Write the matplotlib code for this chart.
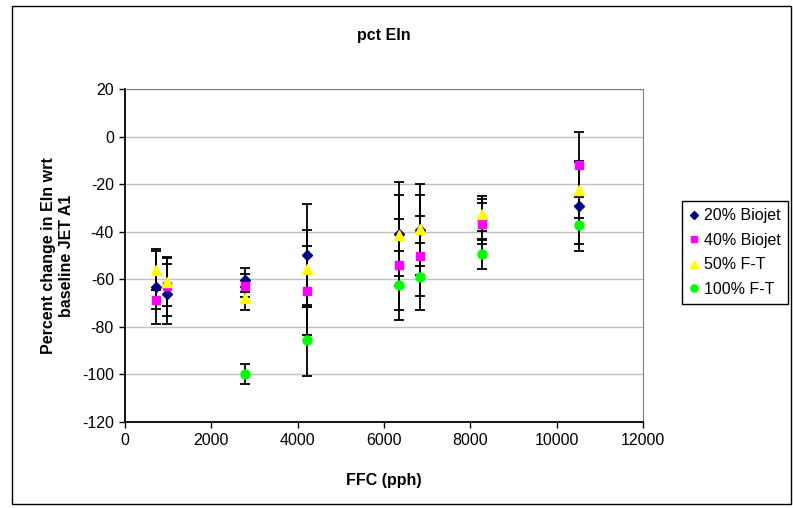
import matplotlib.pyplot as plt
from matplotlib.patches import Rectangle

plt.rcParams['font.family'] = ['Liberation Sans', 'DejaVu Sans']
plt.rcParams['axes.unicode_minus'] = False

# ===============================
# DATA
# ===============================
ffc_all = [710, 965, 2790, 4210, 6350, 6840, 8260, 10515]
ffc_ft100 = [2790, 4210, 6350, 6840, 8260, 10515]

bio20 = [-63.5, -66.2, -60.3, -50.0, -40.9, -39.5, -34.8, -29.3]
bio20_err = [15.2, 12.5, 5.0, 21.6, 21.8, 15.0, 8.6, 19.0]

bio40 = [-68.6, -63.0, -62.7, -64.8, -53.9, -50.3, -36.6, -11.8]
bio40_err = [4.0, 12.4, 5.0, 18.8, 19.1, 17.0, 8.5, 13.7]

ft50 = [-56.0, -61.3, -68.0, -55.6, -41.6, -39.0, -32.4, -22.6]
ft50_err = [8.7, 10.2, 4.8, 16.3, 17.0, 19.2, 7.3, 11.7]

ft100 = [-100.0, -85.8, -62.6, -58.9, -49.6, -37.2]
ft100_err = [4.3, 14.8, 14.6, 13.9, 6.3, 8.0]

series = [
    ("20% Biojet", ffc_all, bio20, bio20_err, "D", "#000080", 5.5),
    ("40% Biojet", ffc_all, bio40, bio40_err, "s", "#FF00FF", 6),
    ("50% F-T", ffc_all, ft50, ft50_err, "^", "#FFFF00", 7.5),
    ("100% F-T", ffc_ft100, ft100, ft100_err, "o", "#00FF00", 6.5),
]

# ===============================
# PLOT
# ===============================
fig = plt.figure(figsize=(7.93, 5.08), dpi=100)
ax = fig.add_axes([125 / 793, 1 - 421.7 / 508, 518 / 793, 332.7 / 508])

# outer chart border
fig.patches.append(Rectangle((12 / 793, 4 / 508), 779 / 793, 498 / 508,
                             transform=fig.transFigure, fill=False,
                             edgecolor="black", linewidth=1.0))

handles = []
for i, (name, xs, ys, es, mk, col, ms) in enumerate(series):
    ax.errorbar(xs, ys, yerr=es, fmt="none", ecolor="black", elinewidth=1.3,
                capsize=3.6, capthick=1.3, zorder=3 + i)
    h, = ax.plot(xs, ys, linestyle="none", marker=mk, color=col,
                 markeredgecolor=col, markersize=ms, zorder=10 + i, label=name)
    handles.append(h)

ax.set_xlim(0, 12000)
ax.set_ylim(-120, 20)
ax.set_xticks(range(0, 12001, 2000))
ax.set_yticks(range(-120, 21, 20))
ax.tick_params(direction="out", length=4, width=1, labelsize=11.5, pad=4)

ax.grid(axis="y", color="#c0c0c0", linewidth=1)
ax.set_axisbelow(True)
for s in ["top", "right"]:
    ax.spines[s].set_color("#808080")
for s in ["left", "bottom"]:
    ax.spines[s].set_linewidth(1.3)

ax.set_title("pct EIn", fontsize=11.5, fontweight="bold", pad=35)
ax.set_xlabel("FFC (pph)", fontsize=11.5, fontweight="bold", labelpad=18)
ax.set_ylabel("Percent change in EIn wrt\nbaseline JET A1", fontsize=11.5,
              fontweight="bold", labelpad=6)

leg = fig.legend(handles=handles, loc="upper left",
                 bbox_to_anchor=(682 / 793, 1 - 201 / 508),
                 frameon=True, fancybox=False, framealpha=1, fontsize=11.5,
                 handlelength=0.6, handletextpad=0.3, borderpad=0.45,
                 labelspacing=0.6, borderaxespad=0, markerscale=0.8)
leg.get_frame().set_edgecolor("black")
leg.get_frame().set_linewidth(1.0)

plt.savefig("out.png", dpi=100)
